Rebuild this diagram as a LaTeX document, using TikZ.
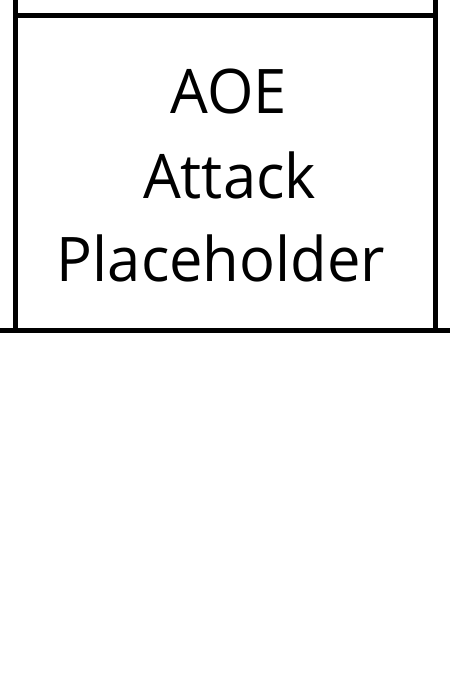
\documentclass[tikz,border=0pt]{standalone}
\usepackage{fontspec}
\setmainfont[FakeStretch=0.97]{Open Sans}
\begin{document}
\begin{tikzpicture}[x=1pt,y=-1pt,
  frame/.style={line width=4.5pt, draw=black},
  bigtext/.style={font=\fontsize{61.5}{84}\selectfont, inner sep=0pt, anchor=base}]
\useasboundingbox (0,0) rectangle (450,700);
\coordinate (lt) at (15.5,0);
\coordinate (rt) at (435.5,0);
\coordinate (lb) at (15.5,330.5);
\coordinate (rb) at (435.5,330.5);
\coordinate (tl) at (15.5,15.5);
\coordinate (tr) at (435.5,15.5);
\coordinate (bl) at (0,330.5);
\coordinate (br) at (450,330.5);
\draw[frame] (lt) -- (lb);
\draw[frame] (rt) -- (rb);
\draw[frame] (tl) -- (tr);
\draw[frame] (bl) -- (br);
\node[bigtext] (l1) at (229,114) {AOE};
\node[bigtext] (l2) at (229.5,198.5) {Attack};
\node[bigtext] (l3) at (221,281) {Placeholder};
\end{tikzpicture}
\end{document}
